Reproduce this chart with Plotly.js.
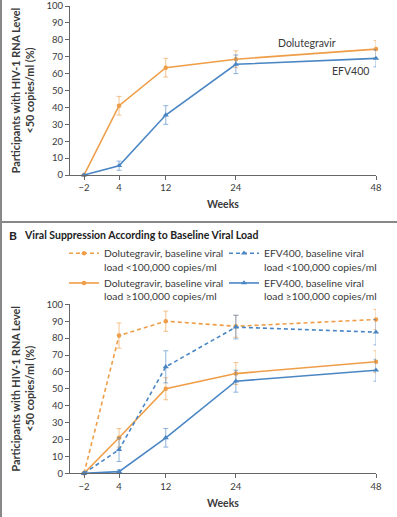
<!DOCTYPE html>
<html>
<head>
<meta charset="utf-8">
<script src="https://cdn.plot.ly/plotly-3.0.1.min.js"></script>
<style>html,body{margin:0;padding:0;background:#fff;}#chart{width:397px;height:517px;}</style>
</head>
<body>
<div id="chart"></div>
<script>
// Weeks
const weeks = [-2, 4, 12, 24, 48];
const weekLabels = ['\u22122', '4', '12', '24', '48'];

// Panel A: overall
const dtgAll = [0, 41, 63.5, 68.5, 74.5];
const dtgAllErr = [0, 5.5, 5.5, 5, 5];
const efvAll = [0, 5.5, 35.5, 65.5, 69];
const efvAllErr = [0, 2.7, 5.5, 5.5, 5];

// Panel B: by baseline viral load
const dtgLow = [0, 81.5, 90, 87, 91];
const dtgLowErr = [0, 7.5, 6, 6.5, 6];
const efvLow = [0, 14, 63, 86.5, 83.5];
const efvLowErr = [0, 7, 9.5, 7, 7.5];
const dtgHigh = [0, 21, 50, 59, 66];
const dtgHighErr = [0, 5.5, 6.5, 6.5, 6.5];
const efvHigh = [0, 1, 21, 54.5, 61];
const efvHighErr = [0, 1, 5.5, 6.5, 6.5];

const ORANGE = '#ef9d47';
const BLUE = '#4a86c4';
const ORANGE_ERR = 'rgba(239,157,71,0.6)';
const BLUE_ERR = 'rgba(74,134,196,0.6)';
const FONT = 'Lato, "Open Sans", sans-serif';
const TXT = '#3a3a3a';
const DASH = '4px,3px';

function tr(x, y, err, color, errColor, dash, symbol, name, xa, ya, showleg, leg) {
  return {
    type: 'scatter', mode: 'lines+markers', x: x, y: y, name: name,
    xaxis: xa, yaxis: ya, showlegend: showleg, legend: leg,
    line: {color: color, width: 1.6, dash: dash},
    marker: {color: color, size: symbol === 'circle' ? 4.5 : 5.5, symbol: symbol},
    error_y: {type: 'data', array: err, visible: true, color: errColor, thickness: 1, width: 2.5},
    cliponaxis: false
  };
}

const data = [
  tr(weeks, dtgAll, dtgAllErr, ORANGE, ORANGE_ERR, 'solid', 'circle', 'Dolutegravir', 'x', 'y', false),
  tr(weeks, efvAll, efvAllErr, BLUE, BLUE_ERR, 'solid', 'triangle-up', 'EFV400', 'x', 'y', false),
  tr(weeks, dtgLow, dtgLowErr, ORANGE, ORANGE_ERR, DASH, 'circle', 'Dolutegravir, baseline viral<br>load &lt;100,000 copies/ml', 'x2', 'y2', true, 'legend'),
  tr(weeks, dtgHigh, dtgHighErr, ORANGE, ORANGE_ERR, 'solid', 'circle', 'Dolutegravir, baseline viral<br>load \u2265100,000 copies/ml', 'x2', 'y2', true, 'legend'),
  tr(weeks, efvLow, efvLowErr, BLUE, BLUE_ERR, DASH, 'triangle-up', 'EFV400, baseline viral<br>load &lt;100,000 copies/ml', 'x2', 'y2', true, 'legend2'),
  tr(weeks, efvHigh, efvHighErr, BLUE, BLUE_ERR, 'solid', 'triangle-up', 'EFV400, baseline viral<br>load \u2265100,000 copies/ml', 'x2', 'y2', true, 'legend2')
];

const W = 397, H = 517;
const xdom = [70 / W, 376 / W];
const yTitle = {text: '<b>Participants with HIV-1 RNA Level</b><br><b>&lt;50 copies/ml (%)</b>', font: {size: 10.8, color: TXT, family: FONT}, standoff: 9};
const xTitle = {text: '<b>Weeks</b>', font: {size: 10.5, color: TXT, family: FONT}, standoff: 8};
const xaxisBase = {
  domain: xdom, range: [-4.4, 48], tickvals: weeks, ticktext: weekLabels,
  showgrid: false, zeroline: false, showline: true, linecolor: '#666', linewidth: 1,
  ticks: 'outside', ticklen: 4, tickcolor: '#666', tickfont: {size: 9.5, color: TXT, family: FONT},
  title: xTitle, automargin: false, fixedrange: true
};
const yaxisBase = {
  range: [0, 100], tickvals: [0,10,20,30,40,50,60,70,80,90,100],
  showgrid: false, zeroline: false, showline: true, linecolor: '#666', linewidth: 1,
  ticks: 'outside', ticklen: 4, tickcolor: '#666', tickfont: {size: 9.5, color: TXT, family: FONT},
  title: yTitle, automargin: false, fixedrange: true
};

const layout = {
  width: W, height: H,
  margin: {l: 0, r: 0, t: 0, b: 0},
  paper_bgcolor: '#fff', plot_bgcolor: '#fff',
  font: {family: FONT, color: TXT},
  xaxis: Object.assign({}, xaxisBase, {anchor: 'y'}),
  yaxis: Object.assign({}, yaxisBase, {domain: [1 - 175 / H, 1 - 6 / H], anchor: 'x'}),
  xaxis2: Object.assign({}, xaxisBase, {anchor: 'y2'}),
  yaxis2: Object.assign({}, yaxisBase, {domain: [1 - 473.3 / H, 1 - 304.3 / H], anchor: 'x2'}),
  legend: {x: 64 / W, y: 1 - 240 / H, xanchor: 'left', yanchor: 'top', bgcolor: 'rgba(0,0,0,0)',
           font: {size: 10.3, color: TXT, family: FONT}, valign: 'top', tracegroupgap: 0, itemwidth: 30},
  legend2: {x: 224 / W, y: 1 - 240 / H, xanchor: 'left', yanchor: 'top', bgcolor: 'rgba(0,0,0,0)',
           font: {size: 10.3, color: TXT, family: FONT}, valign: 'top', tracegroupgap: 0, itemwidth: 30},
  annotations: [
    {xref: 'x', yref: 'y', x: 36.2, y: 78, text: 'Dolutegravir', showarrow: false, font: {size: 10.5, color: TXT, family: FONT}},
    {xref: 'x', yref: 'y', x: 43.7, y: 61.5, text: 'EFV400', showarrow: false, font: {size: 10.5, color: TXT, family: FONT}},
    {xref: 'paper', yref: 'paper', x: 7 / W, y: 1 - 235 / H, xanchor: 'left', text: '<b>B</b>', showarrow: false, font: {size: 12, color: '#222', family: FONT}},
    {xref: 'paper', yref: 'paper', x: 22 / W, y: 1 - 235 / H, xanchor: 'left', text: '<b>Viral Suppression According to Baseline Viral Load</b>', showarrow: false, font: {size: 10.5, color: '#222', family: FONT}}
  ],
  shapes: [
    {type: 'line', xref: 'paper', yref: 'paper', x0: 1 / W, x1: 1 / W, y0: 0, y1: 1, line: {color: '#888', width: 2}},
    {type: 'line', xref: 'paper', yref: 'paper', x0: 0, x1: 1, y0: 1 - 222 / H, y1: 1 - 222 / H, line: {color: '#888', width: 2}}
  ]
};

Plotly.newPlot('chart', data, layout, {displayModeBar: false, staticPlot: true});
</script>
</body>
</html>
